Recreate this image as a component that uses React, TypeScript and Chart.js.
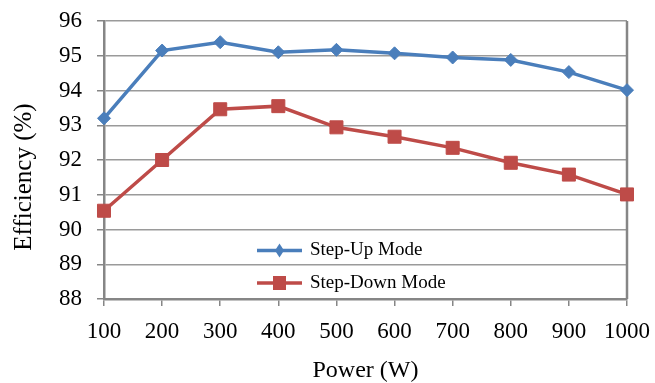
import React, { useEffect, useRef } from 'react';
import { Chart, registerables } from 'chart.js';

Chart.register(...registerables);

const xLabels = ['100', '200', '300', '400', '500', '600', '700', '800', '900', '1000'];
const stepUp = [93.2, 95.15, 95.39, 95.1, 95.17, 95.07, 94.95, 94.88, 94.53, 94.01];
const stepDown = [90.54, 92.0, 93.46, 93.55, 92.94, 92.67, 92.35, 91.92, 91.58, 91.01];
const seriesNames = ['Step-Up Mode', 'Step-Down Mode'];
const yMin = 88;
const yMax = 96;
const yStep = 1;
const xTitle = 'Power (W)';
const yTitle = 'Efficiency (%)';

const FONT = "'Liberation Serif', 'Times New Roman', serif";
const BLUE = '#4a7ebb';
const RED = '#be4b48';
const AXIS = '#868686';
const GRID = '#9a9a9a';

const insideLegend = {
  id: 'insideLegend',
  afterDraw(chart: any) {
    const { ctx, chartArea } = chart;
    const ds = chart.data.datasets;
    const x0 = chartArea.left + 153;
    const x1 = chartArea.left + 198;
    const xm = (x0 + x1) / 2;
    const ys = [chartArea.top + 229.5, chartArea.top + 262];
    ctx.save();
    ds.forEach((d: any, i: number) => {
      const y = ys[i];
      ctx.strokeStyle = d.borderColor;
      ctx.lineWidth = 3.5;
      ctx.beginPath();
      ctx.moveTo(x0, y);
      ctx.lineTo(x1, y);
      ctx.stroke();
      ctx.fillStyle = d.borderColor;
      ctx.beginPath();
      if (d.pointStyle === 'rectRot') {
        ctx.moveTo(xm, y - 7);
        ctx.lineTo(xm + 4.5, y);
        ctx.lineTo(xm, y + 7);
        ctx.lineTo(xm - 4.5, y);
        ctx.closePath();
      } else {
        ctx.rect(xm - 6.5, y - 7, 13, 14);
      }
      ctx.fill();
      ctx.fillStyle = '#000';
      ctx.font = `19px ${FONT}`;
      ctx.textAlign = 'left';
      ctx.textBaseline = 'middle';
      ctx.fillText(d.label, chartArea.left + 206, y);
    });
    // y-axis title (sits slightly below the plot centre in the reference)
    ctx.save();
    ctx.translate(24, chartArea.top + 156);
    ctx.rotate(-Math.PI / 2);
    ctx.fillStyle = '#000';
    ctx.font = `25px ${FONT}`;
    ctx.textAlign = 'center';
    ctx.textBaseline = 'middle';
    ctx.fillText(yTitle, 0, 0);
    ctx.restore();
    ctx.restore();
  },
  beforeDatasetsDraw(chart: any) {
    const { ctx, chartArea } = chart;
    ctx.save();
    ctx.strokeStyle = AXIS;
    ctx.lineWidth = 2.5;
    ctx.beginPath();
    ctx.moveTo(chartArea.right, chartArea.top);
    ctx.lineTo(chartArea.right, chartArea.bottom);
    ctx.stroke();
    ctx.restore();
  },
};

function zeroPad(scale: any) {
  scale.paddingTop = 0;
  scale.paddingBottom = 0;
  scale.paddingLeft = 0;
  scale.paddingRight = 0;
}

export default function App() {
  const ref = useRef<HTMLCanvasElement | null>(null);
  useEffect(() => {
    if (!ref.current) return;
    const chart = new Chart(ref.current, {
      type: 'line',
      data: {
        labels: xLabels,
        datasets: [
          {
            label: seriesNames[0],
            data: stepUp,
            borderColor: BLUE,
            backgroundColor: BLUE,
            borderWidth: 3.5,
            pointStyle: 'rectRot',
            pointRadius: 6.5,
            pointBorderWidth: 1,
            tension: 0,
          },
          {
            label: seriesNames[1],
            data: stepDown,
            borderColor: RED,
            backgroundColor: RED,
            borderWidth: 3.5,
            pointStyle: 'rect',
            pointRadius: 9.2,
            pointBorderWidth: 1,
            tension: 0,
          },
        ],
      },
      options: {
        responsive: false,
        animation: false,
        layout: { padding: { top: 21, right: 28, left: 0, bottom: 0 } },
        plugins: {
          legend: { display: false },
          tooltip: { enabled: false },
        },
        scales: {
          x: {
            type: 'category',
            offset: false,
            afterFit(scale: any) {
              scale.height = 84;
              zeroPad(scale);
            },
            grid: {
              drawOnChartArea: false,
              drawTicks: true,
              tickLength: 7,
              color: AXIS,
              lineWidth: 1.5,
            },
            border: { color: AXIS, width: 2.5 },
            ticks: {
              color: '#000',
              padding: 12,
              maxRotation: 0,
              autoSkip: false,
              font: { family: FONT, size: 23, lineHeight: 1.2 },
            },
            title: {
              display: true,
              text: xTitle,
              color: '#000',
              font: { family: FONT, size: 24, lineHeight: 1 },
              padding: { top: 0, bottom: 0 },
            },
          },
          y: {
            type: 'linear',
            min: yMin,
            max: yMax,
            afterFit(scale: any) {
              scale.width = 104;
              zeroPad(scale);
            },
            grid: {
              drawTicks: true,
              tickLength: 7,
              color: GRID,
              tickColor: AXIS,
              lineWidth: 1.5,
            },
            border: { color: AXIS, width: 2.5 },
            ticks: {
              stepSize: yStep,
              color: '#000',
              padding: 15,
              font: { family: FONT, size: 23 },
            },
            title: { display: false },
          },
        },
      },
      plugins: [insideLegend],
    } as any);
    return () => chart.destroy();
  }, []);

  return (
    <div style={{ position: 'fixed', left: 0, top: 0, width: 655, height: 383, background: '#fff' }}>
      <canvas ref={ref} width={655} height={383} />
    </div>
  );
}
